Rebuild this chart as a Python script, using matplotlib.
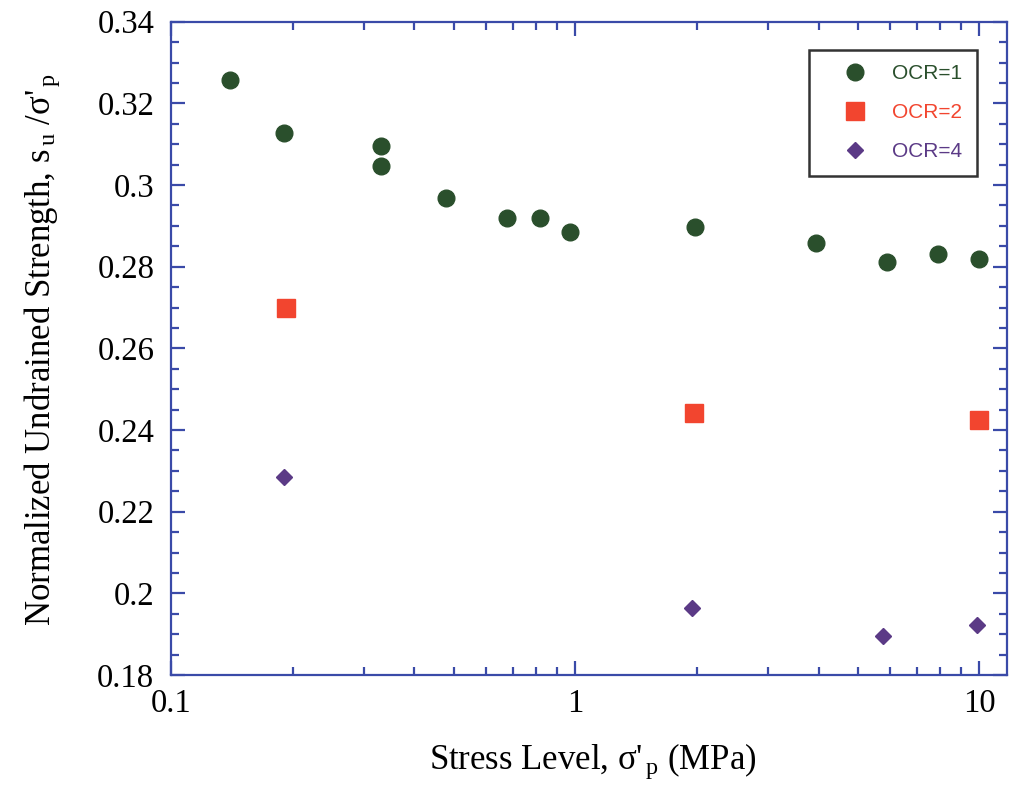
import matplotlib
matplotlib.use('Agg')
import matplotlib.pyplot as plt
from matplotlib.ticker import MultipleLocator, LogLocator, NullFormatter, FixedLocator, FixedFormatter

# data
x_ocr1 = [0.14, 0.19, 0.33, 0.33, 0.48, 0.68, 0.82, 0.97, 1.98, 3.95, 5.9, 7.9, 9.95]
y_ocr1 = [0.3257, 0.3127, 0.3095, 0.3046, 0.2968, 0.2919, 0.2919, 0.2885, 0.2897, 0.2858, 0.2811, 0.2830, 0.2819]

x_ocr2 = [0.192, 1.97, 9.95]
y_ocr2 = [0.2698, 0.2441, 0.2424]

x_ocr4 = [0.19, 1.94, 5.76, 9.87]
y_ocr4 = [0.2284, 0.1963, 0.1895, 0.1922]

xticks = [0.1, 1, 10]
xticklabels = ['0.1', '1', '10']

blue = '#3a4aa8'
green = '#2a4f2c'
red = '#f2452f'
purple = '#5b3a86'

plt.rcParams['font.family'] = ['Liberation Serif', 'DejaVu Serif']
plt.rcParams['mathtext.fontset'] = 'custom'
plt.rcParams['mathtext.rm'] = 'Liberation Serif'
plt.rcParams['mathtext.it'] = 'Liberation Serif'

fig = plt.figure(figsize=(10.1, 7.99), dpi=100)
ax = fig.add_axes([0.1693, 0.1552, 0.8277, 0.8176])

ax.plot(x_ocr1, y_ocr1, 'o', color=green, markersize=12, linestyle='none', label='OCR=1')
ax.plot(x_ocr2, y_ocr2, 's', color=red, markersize=12.5, linestyle='none', label='OCR=2')
ax.plot(x_ocr4, y_ocr4, 'D', color=purple, markersize=8.5, linestyle='none', label='OCR=4')

ax.set_xscale('log')
ax.set_xlim(0.1, 11.7)
ax.set_ylim(0.18, 0.34)

ax.xaxis.set_major_locator(FixedLocator(xticks))
ax.xaxis.set_major_formatter(FixedFormatter(xticklabels))
ax.xaxis.set_minor_locator(LogLocator(base=10, subs=range(2, 10)))
ax.xaxis.set_minor_formatter(NullFormatter())
ax.yaxis.set_major_locator(MultipleLocator(0.02))
ax.yaxis.set_minor_locator(MultipleLocator(0.005))
ax.yaxis.set_major_formatter(plt.FuncFormatter(lambda v, p: ('%.2f' % v).rstrip('0')))

for s in ax.spines.values():
    s.set_color(blue)
    s.set_linewidth(1.6)

ax.tick_params(which='both', direction='in', color=blue, top=True, right=True, labelsize=23.5)
ax.tick_params(which='major', length=10, width=1.6)
ax.tick_params(which='minor', length=6, width=1.6)
ax.tick_params(axis='x', which='major', pad=10)
ax.tick_params(axis='y', which='major', pad=12)

ax.set_xlabel("Stress Level, σ'$_{\\,\\mathrm{p}}$ (MPa)", fontsize=25)
ax.xaxis.set_label_coords(0.505, -0.102)
ax.set_ylabel("Normalized Undrained Strength, s$_{\\,\\mathrm{u}}$ /σ'$_{\\,\\mathrm{p}}$", fontsize=25)
ax.yaxis.set_label_coords(-0.130, 0.499)

leg = ax.legend(loc='upper right', bbox_to_anchor=(0.964, 0.957), fancybox=False,
                edgecolor='black', prop={'family': 'Liberation Sans', 'size': 15},
                labelspacing=0.95, handletextpad=0.33, borderpad=0.7, handlelength=2.95,
                borderaxespad=0)
leg.get_frame().set_linewidth(1.8)
for txt, c in zip(leg.get_texts(), [green, red, purple]):
    txt.set_color(c)

plt.savefig('out.png', dpi=100)
